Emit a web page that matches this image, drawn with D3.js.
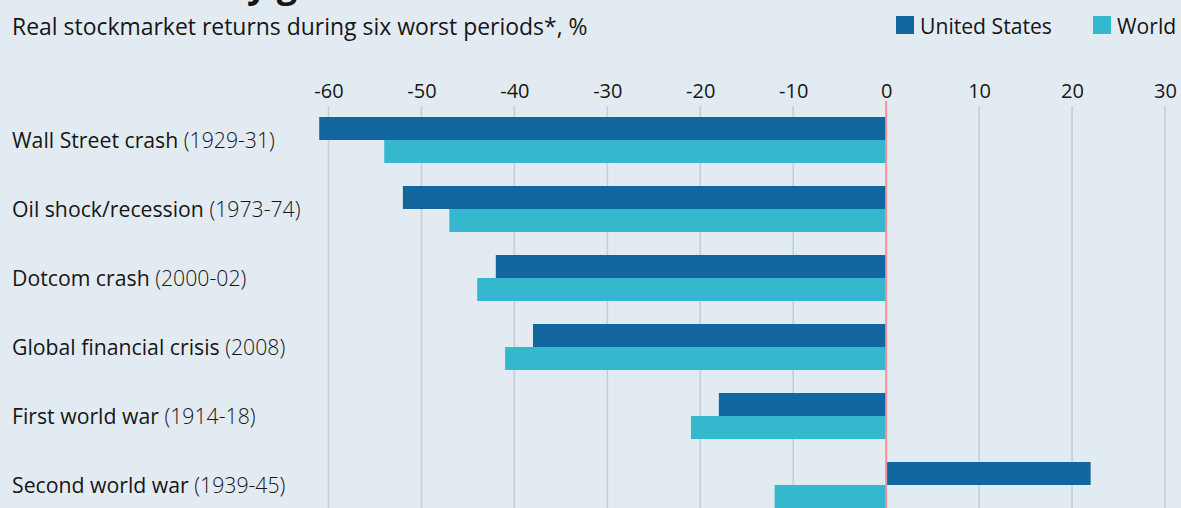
<!DOCTYPE html>
<html>
<head>
<meta charset="utf-8">
<script src="https://cdn.jsdelivr.net/npm/d3@7"></script>
<style>
  html, body { margin: 0; padding: 0; background: #e3ebf2; }
  svg { display: block; }
  text { font-family: "Open Sans", Lato, sans-serif; fill: #161616; }
</style>
</head>
<body>
<svg id="chart" width="1181" height="508"></svg>
<script>
// Periods (name + years) and real returns, %
const periods = [
  "Wall Street crash", "Oil shock/recession", "Dotcom crash",
  "Global financial crisis", "First world war", "Second world war"
];
const years = ["(1929-31)", "(1973-74)", "(2000-02)", "(2008)", "(1914-18)", "(1939-45)"];
const seriesNames = ["United States", "World"];
const usReturns = [-61, -52, -42, -38, -18, 22];
const worldReturns = [-54, -47, -44, -41, -21, -12];
const tickValues = [-60, -50, -40, -30, -20, -10, 0, 10, 20, 30];

const colors = { "United States": "#13679f", "World": "#35b7cd" };

const svg = d3.select("#chart");
const W = 1181, H = 508;

// Resize a text element so that it spans the given width
function fitWidth(sel, width) {
  const node = sel.node();
  const size = parseFloat(sel.style("font-size"));
  const len = node.getComputedTextLength();
  const s = size * width / len;
  sel.style("font-size", s + "px");
  return s;
}

// Headline (only its lower edge falls inside the frame)
const headline = svg.append("text")
  .attr("x", 12).attr("y", -3)
  .style("font-size", "36px").style("font-weight", 700)
  .text("Not necessarily good");
{
  const t = headline.text();
  const yPos = headline.node().getStartPositionOfChar(t.indexOf("y")).x;
  headline.attr("x", 12 + (247 - yPos));
}

// Subtitle
const subtitle = svg.append("text")
  .attr("x", 12).attr("y", 35)
  .style("font-size", "22px")
  .text("Real stockmarket returns during six worst periods*, %");
fitWidth(subtitle, 576);

// Scales
const x = d3.scaleLinear().domain([-60, 30]).range([328.5, 1165]);
const y = d3.scaleBand().domain(periods).range([117, 508]).paddingInner(1 / 3).paddingOuter(0);
const ySub = d3.scaleBand().domain(seriesNames).range([0, y.bandwidth()]);

// Tick labels along the top
const axis = d3.axisTop(x).tickValues(tickValues).tickSize(0).tickPadding(0)
  .tickFormat(d => String(d));
const gAxis = svg.append("g").attr("transform", "translate(0,98)").call(axis);
gAxis.select(".domain").remove();
gAxis.selectAll("text")
  .style("font-size", "20px").style("font-family", "'Open Sans', Lato, sans-serif")
  .attr("fill", "#161616").attr("dy", 0).attr("y", 0);

// Vertical gridlines
svg.append("g").selectAll("line")
  .data(tickValues.filter(d => d !== 0))
  .join("line")
  .attr("x1", d => x(d)).attr("x2", d => x(d))
  .attr("y1", 106).attr("y2", H)
  .attr("stroke", "#c5ced7").attr("stroke-width", 1.6);

// Bars
const rows = periods.map((p, i) => ({
  period: p,
  values: [
    { series: "United States", value: usReturns[i] },
    { series: "World", value: worldReturns[i] }
  ]
}));

const gRows = svg.append("g").selectAll("g")
  .data(rows).join("g")
  .attr("transform", d => `translate(0,${y(d.period)})`);

gRows.selectAll("rect")
  .data(d => d.values).join("rect")
  .attr("x", d => x(Math.min(0, d.value)))
  .attr("width", d => Math.abs(x(d.value) - x(0)))
  .attr("y", d => ySub(d.series))
  .attr("height", ySub.bandwidth())
  .attr("fill", d => colors[d.series]);

// Zero line
svg.append("line")
  .attr("x1", x(0)).attr("x2", x(0))
  .attr("y1", 101).attr("y2", H)
  .attr("stroke", "#ef9499").attr("stroke-width", 2);

// Category labels: period name, then its years in a lighter weight
const labels = svg.append("g").selectAll("text")
  .data(periods).join("text")
  .attr("x", 12)
  .attr("y", d => y(d) + y.bandwidth() / 2 + 8)
  .style("font-size", "20px");
labels.append("tspan").text(d => d + " ");
labels.append("tspan").style("font-weight", 300).text((d, i) => years[i]);
{
  const first = labels.filter((d, i) => i === 0);
  const s = fitWidth(first, 263);
  labels.style("font-size", s + "px");
}

// Legend
const legend = svg.append("g");
const legendItems = [
  { name: "United States", x: 896 },
  { name: "World", x: 1093 }
];
legend.selectAll("rect").data(legendItems).join("rect")
  .attr("x", d => d.x).attr("y", 16).attr("width", 18).attr("height", 18)
  .attr("fill", d => colors[d.name]);
const legendText = legend.selectAll("text").data(legendItems).join("text")
  .attr("x", d => d.x + 24).attr("y", 34)
  .style("font-size", "21px")
  .attr("fill", "#222")
  .text(d => d.name);
{
  const s = fitWidth(legendText.filter((d, i) => i === 0), 132);
  legendText.style("font-size", s + "px");
}
</script>
</body>
</html>
